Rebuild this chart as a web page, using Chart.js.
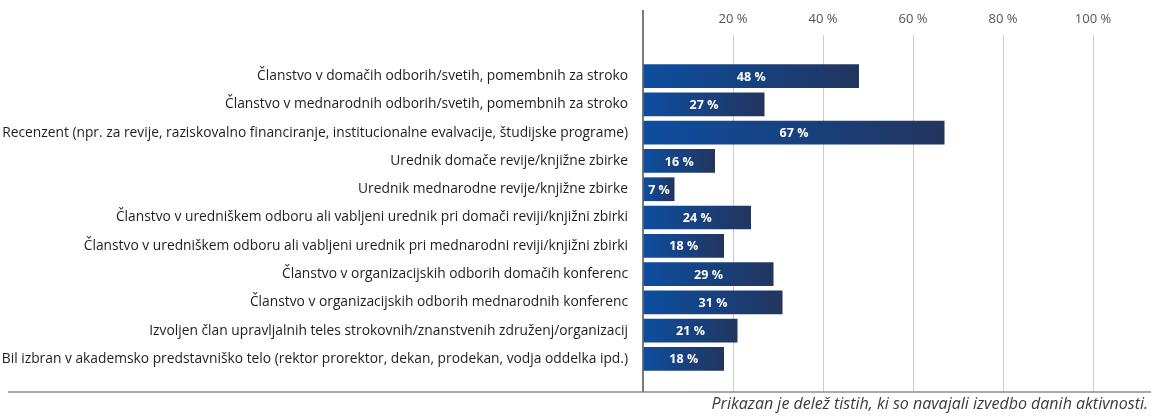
<!DOCTYPE html>
<html>
<head>
<meta charset="utf-8">
<script src="https://cdn.jsdelivr.net/npm/chart.js@4.4.1/dist/chart.umd.min.js"></script>
<style>
  html, body { margin: 0; padding: 0; background: #fff; }
  #wrap { width: 1151px; height: 416px; position: relative; }
</style>
</head>
<body>
<div id="wrap"><canvas id="chart_activities"></canvas></div>
<script>
// DATA
const categories = [
    'Članstvo v domačih odborih/svetih, pomembnih za stroko',
    'Članstvo v mednarodnih odborih/svetih, pomembnih za stroko',
    'Recenzent (npr. za revije, raziskovalno financiranje, institucionalne evalvacije, študijske programe)',
    'Urednik domače revije/knjižne zbirke',
    'Urednik mednarodne revije/knjižne zbirke',
    'Članstvo v uredniškem odboru ali vabljeni urednik pri domači reviji/knjižni zbirki',
    'Članstvo v uredniškem odboru ali vabljeni urednik pri mednarodni reviji/knjižni zbirki',
    'Članstvo v organizacijskih odborih domačih konferenc',
    'Članstvo v organizacijskih odborih mednarodnih konferenc',
    'Izvoljen član upravljalnih teles strokovnih/znanstvenih združenj/organizacij',
    'Bil izbran v akademsko predstavniško telo (rektor prorektor, dekan, prodekan, vodja oddelka ipd.)'
];
const shares = [48, 27, 67, 16, 7, 24, 18, 29, 31, 21, 18];
const axisTicks = [20, 40, 60, 80, 100];
const footnote = 'Prikazan je delež tistih, ki so navajali izvedbo danih aktivnosti.';

const fontFamily = "'Open Sans', sans-serif";

// bar gradient, light blue on the left to navy at the end of each bar
function barGradient(context) {
    const chart = context.chart;
    const x = chart.scales.x;
    if (!x || !chart.chartArea) return '#163f80';
    const start = x.getPixelForValue(0);
    const end = x.getPixelForValue(context.raw || 0);
    if (end - start < 1) return '#0d4ea0';
    const g = chart.ctx.createLinearGradient(start, 0, end, 0);
    g.addColorStop(0, '#0d4ea0');
    g.addColorStop(1, '#22355f');
    return g;
}

// EXTRA LINES + VALUE LABELS + NOTE
const decorations = {
    id: 'decorations',
    beforeDatasetsDraw(chart) {
        const ctx = chart.ctx;
        const area = chart.chartArea;
        const x = chart.scales.x;
        const bottomLine = area.bottom + 19;
        ctx.save();
        // gridlines continue below the last bar
        ctx.strokeStyle = '#cccccc';
        ctx.lineWidth = 1;
        axisTicks.forEach(function(t) {
            const px = Math.round(x.getPixelForValue(t)) + 0.5;
            ctx.beginPath();
            ctx.moveTo(px, area.bottom);
            ctx.lineTo(px, bottomLine);
            ctx.stroke();
        });
        // bottom rule
        ctx.strokeStyle = '#8c8c8c';
        ctx.lineWidth = 1.5;
        ctx.beginPath();
        ctx.moveTo(8, bottomLine);
        ctx.lineTo(chart.width, bottomLine);
        ctx.stroke();
        // vertical axis
        ctx.strokeStyle = '#7a7a7a';
        ctx.lineWidth = 2;
        ctx.beginPath();
        ctx.moveTo(area.left, area.top - 52);
        ctx.lineTo(area.left, bottomLine);
        ctx.stroke();
        ctx.restore();
    },
    afterDatasetsDraw(chart) {
        const ctx = chart.ctx;
        const meta = chart.getDatasetMeta(0);
        ctx.save();
        ctx.fillStyle = '#ffffff';
        ctx.font = "bold 12.5px " + fontFamily;
        ctx.textAlign = 'center';
        ctx.textBaseline = 'middle';
        meta.data.forEach(function(bar, i) {
            const cx = (bar.x + bar.base) / 2;
            ctx.fillText(shares[i] + ' %', cx, bar.y + 1);
        });
        // note under the chart
        ctx.fillStyle = '#3a3a3a';
        ctx.font = "italic 16px " + fontFamily;
        ctx.textAlign = 'right';
        ctx.textBaseline = 'middle';
        ctx.fillText(footnote, chart.width - 3, chart.chartArea.bottom + 31);
        ctx.restore();
    }
};

// CHART
const ctx_activities = document.getElementById('chart_activities');

const chart_activities = new Chart(ctx_activities, {
type: 'bar',
data: {
labels: categories,
datasets: [{
label: 'Delež',
data: shares,
backgroundColor: barGradient,
borderWidth: 0,
barPercentage: 0.84,
categoryPercentage: 1.0,
}]
},
options: {
  indexAxis: 'y',
  responsive: true,
  maintainAspectRatio: false,
  animation: false,
  layout: {
    padding: { left: 0, right: 58, top: 0, bottom: 43 }
  },
  scales: {
    x: {
      position: 'top',
      min: 0,
      max: 100,
      afterBuildTicks: function(scale) {
        scale.ticks = [0].concat(axisTicks).map(function(v) { return { value: v }; });
      },
      afterFit: function(scale) {
        scale.height = 62;
      },
      grid: {
        color: '#cccccc',
        lineWidth: 1,
        drawTicks: true,
        tickLength: 27,
        tickColor: '#cccccc',
      },
      border: { display: false },
      ticks: {
        padding: 8,
        color: '#555555',
        font: { family: fontFamily, size: 13 },
        callback: function(value) {
          return value === 0 ? '' : value + ' %';
        }
      }
    },
    y: {
      afterFit: function(scale) {
        scale.width = 643;
      },
      grid: { display: false, drawTicks: false },
      border: { display: false },
      ticks: {
        padding: 15,
        color: '#1e1e1e',
        autoSkip: false,
        font: { family: fontFamily, size: 13.8 },
      }
    }
  },
  plugins: {
    legend: { display: false },
    tooltip: { enabled: false },
  }
},
plugins: [decorations]
});
</script>
</body>
</html>
